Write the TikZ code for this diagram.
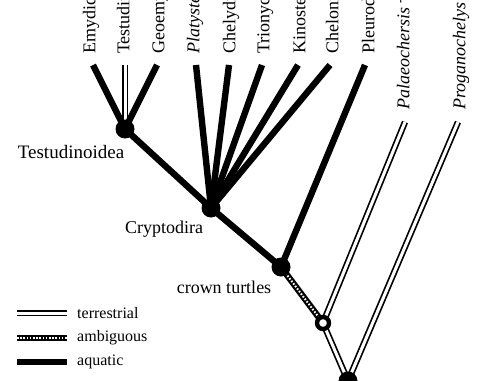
\documentclass[tikz,border=0pt]{standalone}
\usepackage{fontspec}
\setmainfont{Liberation Serif}
\usetikzlibrary{positioning}

\begin{document}
\begin{tikzpicture}[x=1pt, y=-1pt, font=\fontsize{18}{20}\selectfont,
  aquatic/.style={line width=6.4pt},
  terrestrial/.style={line width=1.7pt, double=white, double distance=3pt},
  ambiguous/.style={line width=6.4pt, postaction={draw=white, line width=2pt, dash pattern=on 1.6pt off 1.6pt}},
  clade/.style={circle, fill, inner sep=0pt, minimum size=19pt},
  openclade/.style={circle, draw, fill=white, line width=4.4pt, inner sep=0pt, minimum size=12pt},
  taxon/.style={rotate=90, anchor=west, inner sep=0pt, text height=0.68em, text depth=0.2em},
  legend/.style={anchor=west, inner sep=0pt, font=\fontsize{16}{18}\selectfont}]
  \useasboundingbox (0,0) rectangle (487,380);
  % branch points
  \coordinate (testud) at (125,129);
  \coordinate (crypto) at (211,208);
  \coordinate (crown) at (281,267);
  \coordinate (basal) at (323,323);
  \coordinate (root) at (348,381);
  % tips
  \foreach \n/\x in {emy/93, tes/125, geo/157, pla/196, che/229, tri/262, kin/298, chn/330, ple/365}
    \coordinate (\n) at (\x,65);
  \coordinate (pal) at (405,122);
  \coordinate (pro) at (458,122);
  \node[taxon] (emy label) at (93,54) {Emydidae};
  \node[taxon] (tes label) at (127,54) {Testudinidae};
  \node[taxon] (geo label) at (162,54) {Geoemydidae};
  \node[taxon] (pla label) at (197,54) {\itshape Platysternon};
  \node[taxon] (che label) at (233,54) {Chelydridae};
  \node[taxon] (tri label) at (267,54) {Trionychidae};
  \node[taxon] (kin label) at (303,54) {Kinosternidae};
  \node[taxon] (chn label) at (336,54) {Cheloniidae};
  \node[taxon] (ple label) at (372,54) {Pleurodira};
  \node[taxon] (pal label) at (407,110) {\itshape Palaeochersis \upshape\dag};
  \node[taxon] (pro label) at (463,110) {\itshape Proganochelys};
  % branches
  \draw[aquatic] (testud) -- (emy);
  \draw[terrestrial] (testud) -- (tes);
  \draw[aquatic] (testud) -- (geo);
  \foreach \n in {testud, pla, che, tri, kin, chn}
    \draw[aquatic] (crypto) -- (\n);
  \draw[aquatic] (crown) -- (crypto);
  \draw[aquatic] (crown) -- (ple);
  \draw[ambiguous] (basal) -- (crown);
  \draw[terrestrial] (basal) -- (pal);
  \draw[terrestrial] (root) -- (basal);
  \draw[terrestrial] (root) -- (pro);
  % nodes
  \node[clade] (testud dot) at (testud) {};
  \node[clade] (crypto dot) at (crypto) {};
  \node[clade] (crown dot) at (crown) {};
  \node[openclade] (basal dot) at (basal) {};
  \node[clade] (root dot) at (root) {};
  \node (testud label) at (71,152) {\fontsize{19}{21}\selectfont Testudinoidea};
  \node (crypto label) at (164,229) {Cryptodira};
  \node (crown label) at (224,287) {crown turtles};
  % legend
  \coordinate (terr a) at (17,313); \coordinate (terr b) at (67,313);
  \coordinate (amb a) at (17,338); \coordinate (amb b) at (67,338);
  \coordinate (aqu a) at (17,362); \coordinate (aqu b) at (67,362);
  \draw[terrestrial] (terr a) -- (terr b);
  \draw[ambiguous] (amb a) -- (amb b);
  \draw[aquatic] (aqu a) -- (aqu b);
  \node[legend] (terr label) at (77,313) {terrestrial};
  \node[legend] (amb label) at (77,338) {ambiguous};
  \node[legend] (aqu label) at (77,362) {aquatic};
\end{tikzpicture}
\end{document}
